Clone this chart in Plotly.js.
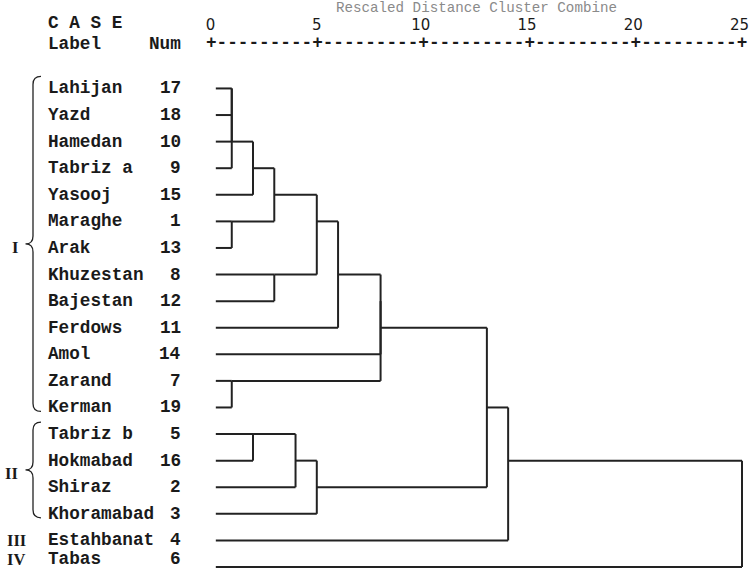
<!DOCTYPE html>
<html><head><meta charset="utf-8">
<script src="https://cdn.plot.ly/plotly-3.0.1.min.js"></script>
<style>html,body{margin:0;padding:0;background:#fff}#chart{width:750px;height:575px}</style>
</head><body><div id="chart"></div>
<script>
// ---- data ----
const caseLabels = ["Lahijan","Yazd","Hamedan","Tabriz a","Yasooj","Maraghe","Arak","Khuzestan","Bajestan","Ferdows","Amol","Zarand","Kerman","Tabriz b","Hokmabad","Shiraz","Khoramabad","Estahbanat","Tabas"];
const caseNums = [17,18,10,9,15,1,13,8,12,11,14,7,19,5,16,2,3,4,6];
// agglomeration schedule: leaves are 0-18 (order above), merge k creates cluster 19+k
const mergeA = [0,19,20,5,11,21,13,24,7,25,26,28,29,31,32,33,34,35];
const mergeB = [1,2,3,6,12,4,14,22,8,15,27,16,9,10,23,30,17,18];
const mergeDist = [1,1,1,1,1,2,2,3,3,4,5,5,6,8,8,13,14,25];
const axisTicks = [0,5,10,15,20,25];
const groupNames = ["I","II","III","IV"];
const groupFirst = [0,13,17,18];
const groupLast = [12,16,17,18];

// ---- geometry (pixel calibration) ----
const W = 750, H = 575, T = 33.5;
const X0 = 210.5, XU = 21.26, Y0 = 88, YU = 26.61;
const dx = p => (p - X0) / XU;
const dy = p => (p - Y0) / YU;
const py = p => 1 - (p - T) / (H - T);
const rowTextY = i => dy(Math.min(Y0 + i * YU, H - 16));
const LEAF_START = 0.25;
const MONO = "Courier New, Liberation Mono, monospace";
const INK = "#1a1a1a";

// ---- dendrogram lines ----
const nodes = caseLabels.map((_, i) => ({row: i, x: LEAF_START}));
const lx = [], ly = [];
function seg(x1, y1, x2, y2){ lx.push(x1, x2, null); ly.push(y1, y2, null); }
for (let k = 0; k < mergeDist.length; k++) {
  const a = nodes[mergeA[k]], b = nodes[mergeB[k]], d = mergeDist[k];
  if (d > a.x) seg(a.x, a.row, d, a.row);
  if (d > b.x) seg(b.x, b.row, d, b.row);
  seg(d, a.row, d, b.row);
  nodes.push({row: Math.floor((a.row + b.row) / 2), x: d});
}

const traces = [{
  type: "scatter", mode: "lines", x: lx, y: ly,
  line: {color: "#222", width: 2}, hoverinfo: "skip", showlegend: false
}];

// ---- annotations ----
const ann = [];
const mono = (size, bold, color) => ({family: MONO, size: size, color: color || INK, weight: bold ? "bold" : "normal"});
caseLabels.forEach((lab, i) => {
  ann.push({xref: "x", yref: "y", x: dx(46), y: rowTextY(i), xanchor: "left", yanchor: "middle",
    text: lab, showarrow: false, font: mono(17.7, true)});
  ann.push({xref: "x", yref: "y", x: dx(183), y: rowTextY(i), xanchor: "right", yanchor: "middle",
    text: String(caseNums[i]), showarrow: false, font: mono(17.7, true)});
});
ann.push({xref: "x", yref: "paper", x: dx(46), y: py(22), xanchor: "left", yanchor: "middle",
  text: "C A S E", showarrow: false, font: mono(17.7, true)});
ann.push({xref: "x", yref: "paper", x: dx(46), y: py(44), xanchor: "left", yanchor: "middle",
  text: "Label", showarrow: false, font: mono(17.7, true)});
ann.push({xref: "x", yref: "paper", x: dx(183), y: py(44), xanchor: "right", yanchor: "middle",
  text: "Num", showarrow: false, font: mono(17.7, true)});
let ruler = "+";
for (let i = 1; i < axisTicks.length; i++) ruler += "---------+";
const axMid = (axisTicks[0] + axisTicks[axisTicks.length-1]) / 2;
ann.push({xref: "x", yref: "paper", x: axMid, y: py(43),
  xanchor: "center", yanchor: "middle", text: ruler, showarrow: false, font: mono(17.7, true)});
ann.push({xref: "x", yref: "paper", x: axMid, y: py(7), borderpad: 0,
  xanchor: "center", yanchor: "middle", text: "Rescaled Distance Cluster Combine", showarrow: false,
  font: mono(14.2, false, "#8a8a8a")});

// group numerals and braces
const shapes = [];
groupNames.forEach((g, k) => {
  const r0 = groupFirst[k], r1 = groupLast[k];
  const multi = r1 > r0;
  const midY = multi ? (r0 + r1) / 2 : rowTextY(r0);
  ann.push({xref: "x", yref: "y", x: dx(multi ? (k === 0 ? 15 : 11) : 16), y: midY,
    xanchor: "center", yanchor: "middle", text: g, showarrow: false,
    font: {family: "Liberation Serif, Times New Roman, serif", size: 16.5, color: INK, weight: "bold"}});
  if (multi) {
    const top = Y0 + r0 * YU - 12, bot = Y0 + r1 * YU + 4, m = (top + bot) / 2;
    const xe = 41, xb = 33, xt = 25.5, r = 8;
    const P = (x, y) => dx(x) + "," + dy(y);
    const path = "M" + P(xe, top) + " Q" + P(xb, top) + " " + P(xb, top + r) +
      " L" + P(xb, m - r) + " Q" + P(xb, m) + " " + P(xt, m) +
      " Q" + P(xb, m) + " " + P(xb, m + r) +
      " L" + P(xb, bot - r) + " Q" + P(xb, bot) + " " + P(xe, bot);
    shapes.push({type: "path", xref: "x", yref: "y", path: path, line: {color: "#222", width: 1.3}});
  }
});

const layout = {
  width: W, height: H,
  margin: {l: 0, r: 0, t: T, b: 0},
  paper_bgcolor: "#fff", plot_bgcolor: "#fff",
  showlegend: false,
  xaxis: {range: [dx(0), dx(W)], side: "top", tickvals: axisTicks,
    ticktext: axisTicks.map(v => v >= 10 ? v + "\u00A0" : String(v)),
    ticklabeloverflow: "allow",
    ticks: "", showgrid: false, zeroline: false, showline: false,
    tickfont: {family: "DejaVu Sans, Verdana, sans-serif", size: 15, color: INK}, fixedrange: true},
  yaxis: {range: [dy(H), dy(T)], showticklabels: false, showgrid: false, zeroline: false,
    showline: false, ticks: "", fixedrange: true},
  annotations: ann,
  shapes: shapes
};
Plotly.newPlot("chart", traces, layout, {staticPlot: true, displayModeBar: false});
</script>
</body></html>
